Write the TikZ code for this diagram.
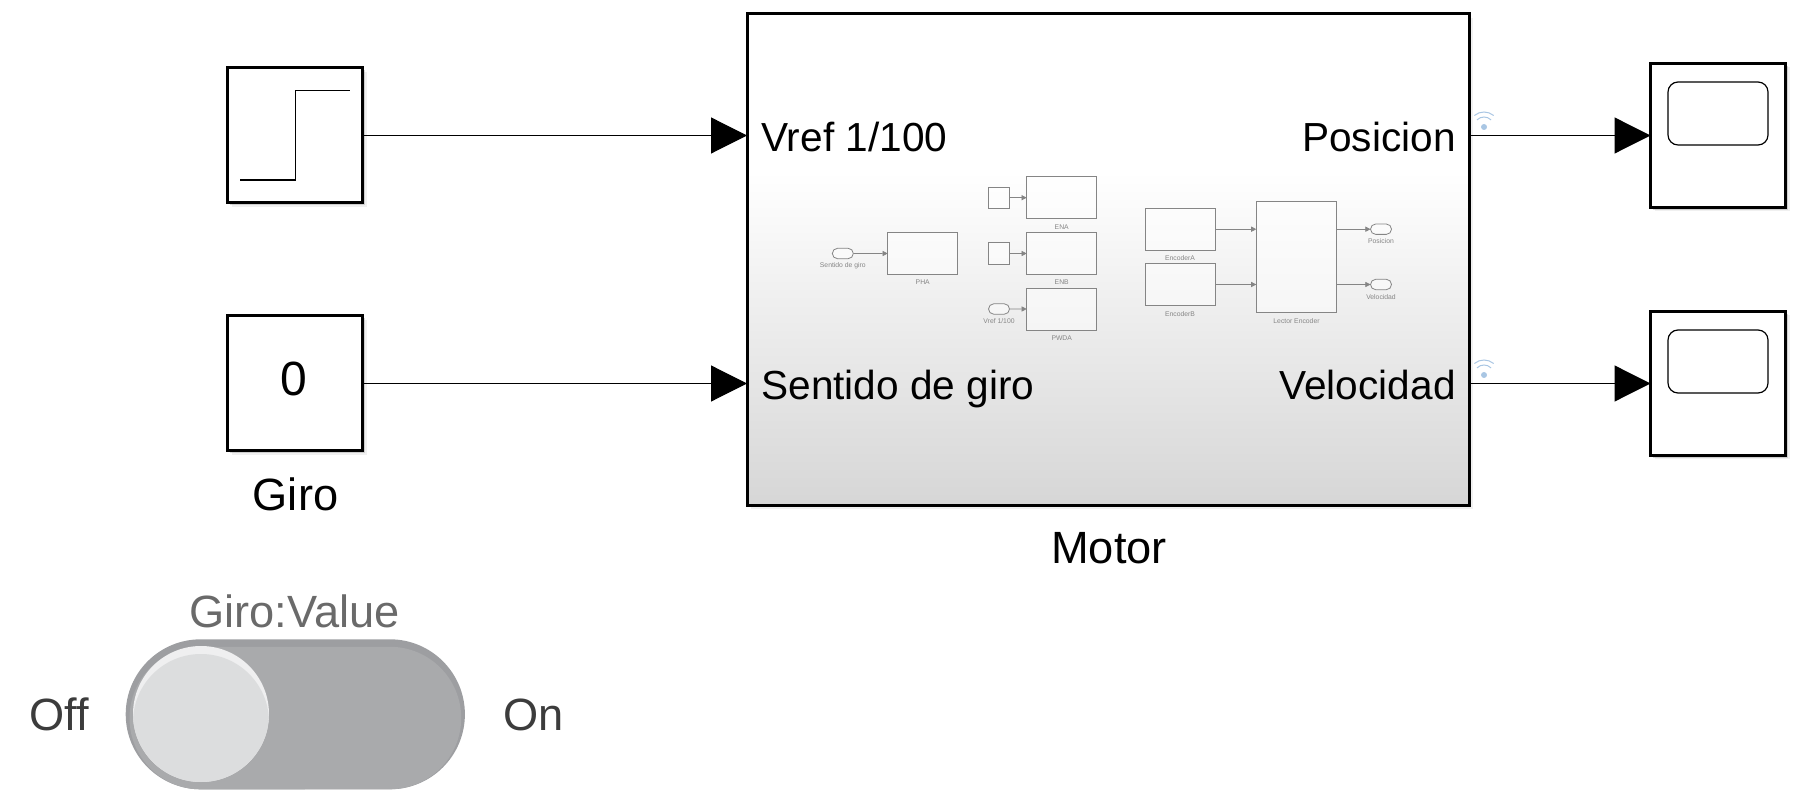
\documentclass[tikz,border=0pt]{standalone}
\usepackage{fontspec}
\setmainfont{Liberation Sans}
\usetikzlibrary{arrows.meta,shadows,shapes.misc,calc}

\definecolor{innergray}{HTML}{858585}
\definecolor{pillgray}{HTML}{A9AAAC}
\definecolor{pilldark}{HTML}{9D9EA1}
\definecolor{knobgray}{HTML}{DCDDDE}
\definecolor{knoblight}{HTML}{EFEFF0}
\definecolor{wifiblue}{HTML}{A9C6E3}
\definecolor{offgray}{HTML}{3C3C3C}
\definecolor{titlegray}{HTML}{6A6A6A}

\pgfdeclareverticalshading{motorshade}{100bp}{color(0bp)=(black!16); color(25bp)=(black!16); color(59bp)=(white); color(100bp)=(white)}

\tikzset{
  simblock/.style={draw=black,line width=1.5pt,fill=white,outer sep=0pt,inner sep=0pt,
    drop shadow={shadow xshift=2pt,shadow yshift=-2pt,opacity=.12},
    drop shadow={shadow xshift=1.2pt,shadow yshift=-1.2pt,opacity=.3}},
  wire/.style={line width=.55pt,-{Triangle[length=18pt,width=18pt]},shorten >=0pt},
  biglabel/.style={inner sep=0pt,font=\fontsize{22.6}{24}\selectfont},
  portlabel/.style={inner sep=0pt,font=\fontsize{20.3}{24}\selectfont},
  innerbox/.style={draw=innergray,line width=.4pt,fill=white,fill opacity=.5,text opacity=1,
    outer sep=0pt,inner sep=0pt,minimum width=35pt,minimum height=21pt},
  innersmall/.style={draw=innergray,line width=.4pt,fill=white,fill opacity=.5,outer sep=0pt,
    inner sep=0pt,minimum width=10.6pt,minimum height=10.6pt},
  innerport/.style={draw=innergray,line width=.4pt,fill=white,fill opacity=.5,outer sep=0pt,
    inner sep=0pt,rounded rectangle,minimum width=10.5pt,minimum height=5.2pt},
  innerlabel/.style={inner sep=0pt,text=innergray,yshift=-0.5pt,font=\fontsize{3.4}{4}\selectfont},
  innerwire/.style={draw=innergray,line width=.4pt,-{Triangle[length=2.6pt,width=2.6pt]}},
}

\begin{document}
\begin{tikzpicture}[x=0.5pt,y=-0.5pt]
\useasboundingbox (0,0) rectangle (1813,801);

%Drawing source blocks
\node[simblock,minimum width=67.5pt,minimum height=67.5pt] (stepblk) at (295,135.5) {};
\draw[line width=.6pt] (240,180) -- (295.7,180) -- (295.7,90.3) -- (349.7,90.3);
\node[simblock,minimum width=67.5pt,minimum height=67.5pt] (giroblk) at (295,383.5) {};
\node[biglabel,anchor=base,font=\fontsize{24}{24}\selectfont] (zerotxt) at (294,395.5) {0};
\node[biglabel,anchor=base] (girotxt) at (295.5,510) {Giro};

%Drawing motor subsystem
\node[simblock,shading=motorshade,minimum width=361pt,minimum height=245.5pt] (motor) at (1108,259.5) {};
\node[biglabel,anchor=base] (motortxt) at (1109,563) {Motor};
\node[portlabel,anchor=base west] (vreftxt) at (761,151.2) {Vref 1/100};
\node[portlabel,anchor=base west] (sentidotxt) at (761,400) {Sentido de giro};
\node[portlabel,anchor=base east] (posiciontxt) at (1456,151.2) {Posicion};
\node[portlabel,anchor=base east] (velocidadtxt) at (1456,400) {Velocidad};

%Drawing scopes
\node[simblock,minimum width=67.5pt,minimum height=72pt] (scopeA) at (1718,135.5) {};
\node[simblock,minimum width=67.5pt,minimum height=72pt] (scopeB) at (1718,383.5) {};
\node[draw=black,line width=.6pt,rounded corners=5pt,outer sep=0pt,minimum width=50pt,minimum height=31.5pt] (screenA) at (1718,113.5) {};
\node[draw=black,line width=.6pt,rounded corners=5pt,outer sep=0pt,minimum width=50pt,minimum height=31.5pt] (screenB) at (1718,361.5) {};

%Drawing signal lines
\draw[wire] (stepblk.east) -- (stepblk.east -| motor.west);
\draw[wire] (giroblk.east) -- (giroblk.east -| motor.west);
\draw[wire] (scopeA.west -| motor.east) -- (scopeA.west);
\draw[wire] (scopeB.west -| motor.east) -- (scopeB.west);

%Drawing logging marks
\foreach \y in {127,375}{
  \fill[wifiblue] (1484,\y) circle (3);
  \draw[wifiblue,line width=.5pt] (1484,\y) ++(-45:10) arc[start angle=-45,end angle=-135,radius=10];
  \draw[wifiblue,line width=.5pt] (1484,\y) ++(-50:15) arc[start angle=-50,end angle=-130,radius=15];
}

%Drawing motor thumbnail
\node[innerport] (inSentido) at (842.8,253.5) {};
\node[innerlabel] (inSentidoTxt) at (842.8,264.7) {Sentido de giro};
\node[innerbox] (pha) at (922.7,253.5) {};
\node[innerlabel] (phaTxt) at (922.7,280.7) {PHA};
\node[innerbox] (ena) at (1061.7,197.7) {};
\node[innerlabel] (enaTxt) at (1061.7,225.7) {ENA};
\node[innerbox] (enb) at (1061.7,253.5) {};
\node[innerlabel] (enbTxt) at (1061.7,280.7) {ENB};
\node[innerbox] (pwda) at (1061.7,309) {};
\node[innerlabel] (pwdaTxt) at (1061.7,336.7) {PWDA};
\node[innersmall] (ctA) at (999,197.7) {};
\node[innersmall] (ctB) at (999,253.5) {};
\node[innerport] (inVref) at (999,309) {};
\node[innerlabel] (inVrefTxt) at (999,320.3) {Vref 1/100};
\node[innerbox] (encA) at (1180,229.2) {};
\node[innerlabel] (encATxt) at (1180,256.7) {EncoderA};
\node[innerbox] (encB) at (1180,284.5) {};
\node[innerlabel] (encBTxt) at (1180,312.7) {EncoderB};
\node[innerbox,minimum width=40.2pt,minimum height=55.7pt] (lector) at (1296.5,257) {};
\node[innerlabel] (lectorTxt) at (1296.5,319.7) {Lector Encoder};
\node[innerport] (outPos) at (1381,229.2) {};
\node[innerlabel] (outPosTxt) at (1381,240.3) {Posicion};
\node[innerport] (outVel) at (1381,284.5) {};
\node[innerlabel] (outVelTxt) at (1381,296.3) {Velocidad};

\draw[innerwire] (inSentido) -- (pha);
\draw[innerwire] (ctA) -- (ena);
\draw[innerwire] (ctB) -- (enb);
\draw[innerwire] (inVref) -- (pwda);
\draw[innerwire] (encA) -- (encA -| lector.west);
\draw[innerwire] (encB) -- (encB -| lector.west);
\draw[innerwire] (outPos -| lector.east) -- (outPos);
\draw[innerwire] (outVel -| lector.east) -- (outVel);

%Drawing toggle switch
\node[inner sep=0pt,text=titlegray,font=\fontsize{22.6}{24}\selectfont,anchor=base] (valuetxt) at (294.5,627.5) {Giro:Value};
\node[inner sep=0pt,text=offgray,font=\fontsize{22.6}{24}\selectfont,anchor=base west] (offtxt) at (29,730) {Off};
\node[inner sep=0pt,text=offgray,font=\fontsize{22.6}{24}\selectfont,anchor=base west] (ontxt) at (503,730) {On};
\node[rounded rectangle,fill=pilldark,outer sep=0pt,inner sep=0pt,minimum width=169.6pt,minimum height=75pt] (pill) at (295.3,714.3) {};
\fill[pillgray] (200.7,646.8) -- (390,646.8) arc[start angle=-90,end angle=90,radius=71.2] -- (200.7,789.3) arc[start angle=90,end angle=270,radius=71.2] -- cycle;
\node[circle,fill=knoblight,outer sep=0pt,inner sep=0pt,minimum size=68pt] (knob) at (201,714) {};
\begin{scope}
\clip (201,714) circle (68);
\fill[knobgray] (201,722) circle (68);
\end{scope}
\end{tikzpicture}
\end{document}
